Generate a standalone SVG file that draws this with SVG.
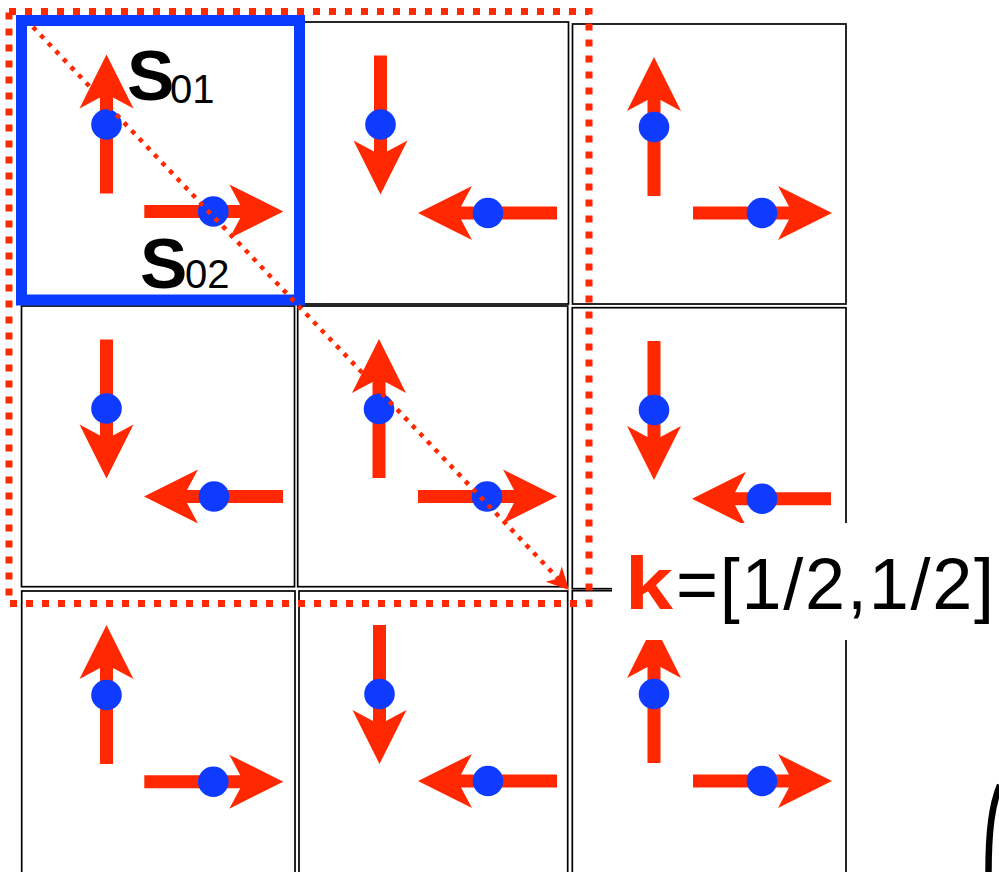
<svg xmlns="http://www.w3.org/2000/svg" xmlns:xlink="http://www.w3.org/1999/xlink" width="999" height="872" viewBox="0 0 999 872">
<style>
.cell{fill:none;stroke:#000;stroke-width:1.7}
.arr{fill:#FF2800}
.dot{fill:#0F3BFF}
.lbl{font-family:"Liberation Sans",Arial,sans-serif;fill:#000}
</style>
<defs>
<polygon id="arrow" points="0,-70 27,-16 6.5,-27 6.5,69 -6.5,69 -6.5,-27 -27,-16"/>
</defs>
<rect width="999" height="872" fill="#fff"/>
<g id="cells">
<rect id="cell00" class="cell" x="21.5" y="21" width="274.5" height="275"/>
<rect id="cell01" class="cell" x="295" y="22" width="273.5" height="282"/>
<rect id="cell02" class="cell" x="572.5" y="24" width="273.5" height="280"/>
<rect id="cell10" class="cell" x="21.5" y="306" width="273" height="280.7"/>
<rect id="cell11" class="cell" x="297.7" y="306" width="270" height="280.7"/>
<rect id="cell12" class="cell" x="572.3" y="307.7" width="273.7" height="281"/>
<rect id="cell20" class="cell" x="21.7" y="591" width="273.3" height="283"/>
<rect id="cell21" class="cell" x="299" y="591" width="268.7" height="283"/>
<rect id="cell22" class="cell" x="572.3" y="590.7" width="273.7" height="283"/>
</g>
<g id="unitcell">
<rect x="21.5" y="20.5" width="278" height="279.5" fill="none" stroke="#0A3CFF" stroke-width="11"/>
</g>
<g id="spins" class="arr">
<use xlink:href="#arrow" transform="translate(106.5,124.5)"/>
<use xlink:href="#arrow" transform="translate(213.3,211.5) rotate(90)"/>
<use xlink:href="#arrow" transform="translate(380.5,124.5) rotate(180)"/>
<use xlink:href="#arrow" transform="translate(488,213) rotate(-90)"/>
<use xlink:href="#arrow" transform="translate(654,127) "/>
<use xlink:href="#arrow" transform="translate(762,213) rotate(90)"/>
<use xlink:href="#arrow" transform="translate(106.5,408.5) rotate(180)"/>
<use xlink:href="#arrow" transform="translate(214,496.5) rotate(-90)"/>
<use xlink:href="#arrow" transform="translate(379,409) "/>
<use xlink:href="#arrow" transform="translate(487,496.5) rotate(90)"/>
<use xlink:href="#arrow" transform="translate(654,410) rotate(180)"/>
<use xlink:href="#arrow" transform="translate(762,498.7) rotate(-90)"/>
<use xlink:href="#arrow" transform="translate(106.5,695)"/>
<use xlink:href="#arrow" transform="translate(213.3,781.7) rotate(90)"/>
<use xlink:href="#arrow" transform="translate(379.5,694) rotate(180)"/>
<use xlink:href="#arrow" transform="translate(488,781) rotate(-90)"/>
<use xlink:href="#arrow" transform="translate(654,694)"/>
<use xlink:href="#arrow" transform="translate(762,781) rotate(90)"/>
</g>
<g id="atoms" class="dot">
<circle cx="106.5" cy="124.5" r="15.3"/>
<circle cx="213.3" cy="211.5" r="15.3"/>
<circle cx="380.5" cy="124.5" r="15.3"/>
<circle cx="488" cy="213" r="15.3"/>
<circle cx="654" cy="127" r="15.3"/>
<circle cx="762" cy="213" r="15.3"/>
<circle cx="106.5" cy="408.5" r="15.3"/>
<circle cx="214" cy="496.5" r="15.3"/>
<circle cx="379" cy="409" r="15.3"/>
<circle cx="487" cy="496.5" r="15.3"/>
<circle cx="654" cy="410" r="15.3"/>
<circle cx="762" cy="498.7" r="15.3"/>
<circle cx="106.5" cy="695" r="15.3"/>
<circle cx="213.3" cy="781.7" r="15.3"/>
<circle cx="379.5" cy="694" r="15.3"/>
<circle cx="488" cy="781" r="15.3"/>
<circle cx="654" cy="694" r="15.3"/>
<circle cx="762" cy="781" r="15.3"/>
</g>
<g id="supercell">
<rect x="9" y="11.5" width="580" height="592" fill="none" stroke="#FF2800" stroke-width="7" stroke-dasharray="7 9"/>
</g>
<g id="connectors">
<line x1="33" y1="27" x2="558" y2="578.4" stroke="#FF2800" stroke-width="4.5" stroke-dasharray="4.5 6.5"/>
<polygon points="569,590 545.8,581.7 558,578.4 561.8,566.5" fill="#FF2800"/>
</g>
<g id="labels" class="lbl">
<text x="127" y="100" font-size="71" font-weight="bold">S</text>
<text x="170" y="103" font-size="40">01</text>
<text x="140" y="288" font-size="71" font-weight="bold">S</text>
<text x="185" y="288" font-size="40">02</text>
</g>
<g id="klabel">
<rect x="612" y="523" width="390" height="117" fill="#fff"/>
<text x="625" y="609" font-family="'Liberation Sans',Arial,sans-serif" font-size="74" font-weight="bold" fill="#FF2800" textLength="48" lengthAdjust="spacingAndGlyphs">k</text>
<text x="676" y="609" font-family="'Liberation Sans',Arial,sans-serif" font-size="72" fill="#000" textLength="318" lengthAdjust="spacing">=[1/2,1/2]</text>
</g>
<g id="paren">
<path d="M1000 785 C992 805 988.5 830 988.5 873" fill="none" stroke="#000" stroke-width="6.5"/>
</g>
</svg>
